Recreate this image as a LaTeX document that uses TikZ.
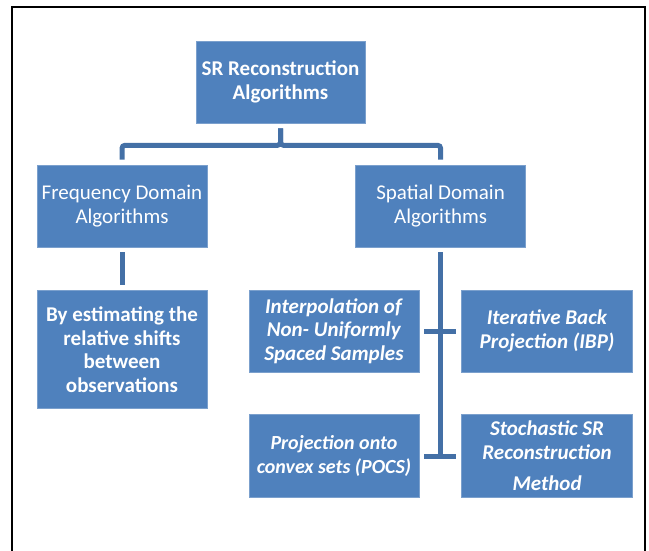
\documentclass[tikz,border=0pt]{standalone}
\usepackage{fontspec}
\setmainfont{Carlito}
\usetikzlibrary{positioning}
\definecolor{boxblue}{HTML}{4F81BD}
\definecolor{linkblue}{HTML}{4470A6}

\begin{document}
\begin{tikzpicture}[
    x=1pt, y=-1pt,
    box/.style={rectangle, fill=boxblue, draw=boxblue!75!white, line width=0.6pt, text=white, minimum width=170pt, inner xsep=0pt, inner ysep=4pt, minimum height=82pt, align=center, font=\fontsize{21}{23.5}\selectfont},
    link/.style={draw=linkblue, line width=5pt, shorten <=5pt, shorten >=5pt}
]
\useasboundingbox (0,0) rectangle (649,550);
\draw[line width=2pt] (12,551) -- (12,7) -- (645,7) -- (645,551);
\node[box, minimum width=169pt] (root) at (280.5,82) {\textbf{SR Reconstruction}\\\textbf{Algorithms}};
\node[box] (freq) at (122,206) {Frequency Domain\\Algorithms};
\node[box, right=148pt of freq] (spatial) {Spatial Domain\\Algorithms};
\node[box, below=43pt of freq, minimum height=118pt] (shifts) {\textbf{By estimating the}\\\textbf{relative shifts}\\\textbf{between}\\\textbf{observations}};
\node[box] (interp) at (334,331) {\textbf{\textit{Interpolation of}}\\\textbf{\textit{Non- Uniformly}}\\\textbf{\textit{Spaced Samples}}};
\node[box, right=42pt of interp, minimum width=171pt] (ibp) {\textbf{\textit{Iterative Back}}\\\textbf{\textit{Projection (IBP)}}};
\node[box, below=42pt of interp, minimum height=83pt, font=\fontsize{20}{23.5}\selectfont] (pocs) {\textbf{\textit{Projection onto}}\\\textbf{\textit{convex sets (POCS)}}};
\node[box, below=42pt of ibp, minimum height=83pt, minimum width=171pt] (stoch) {\textbf{\textit{Stochastic SR}}\\\textbf{\textit{Reconstruction}}\\[8pt]\textbf{\textit{Method}}};
\draw[link, rounded corners=3pt] (root.south) -- ++(0,22) -| (freq.north);
\draw[link, rounded corners=3pt] (root.south) -- ++(0,22) -| (spatial.north);
\draw[link] (freq) -- (shifts);
\draw[link, shorten >=0pt] (spatial.south) -- (spatial.south |- pocs.east);
\draw[link] (interp.east) -- (ibp.west);
\draw[link] (pocs.east) -- (stoch.west);
\end{tikzpicture}
\end{document}
